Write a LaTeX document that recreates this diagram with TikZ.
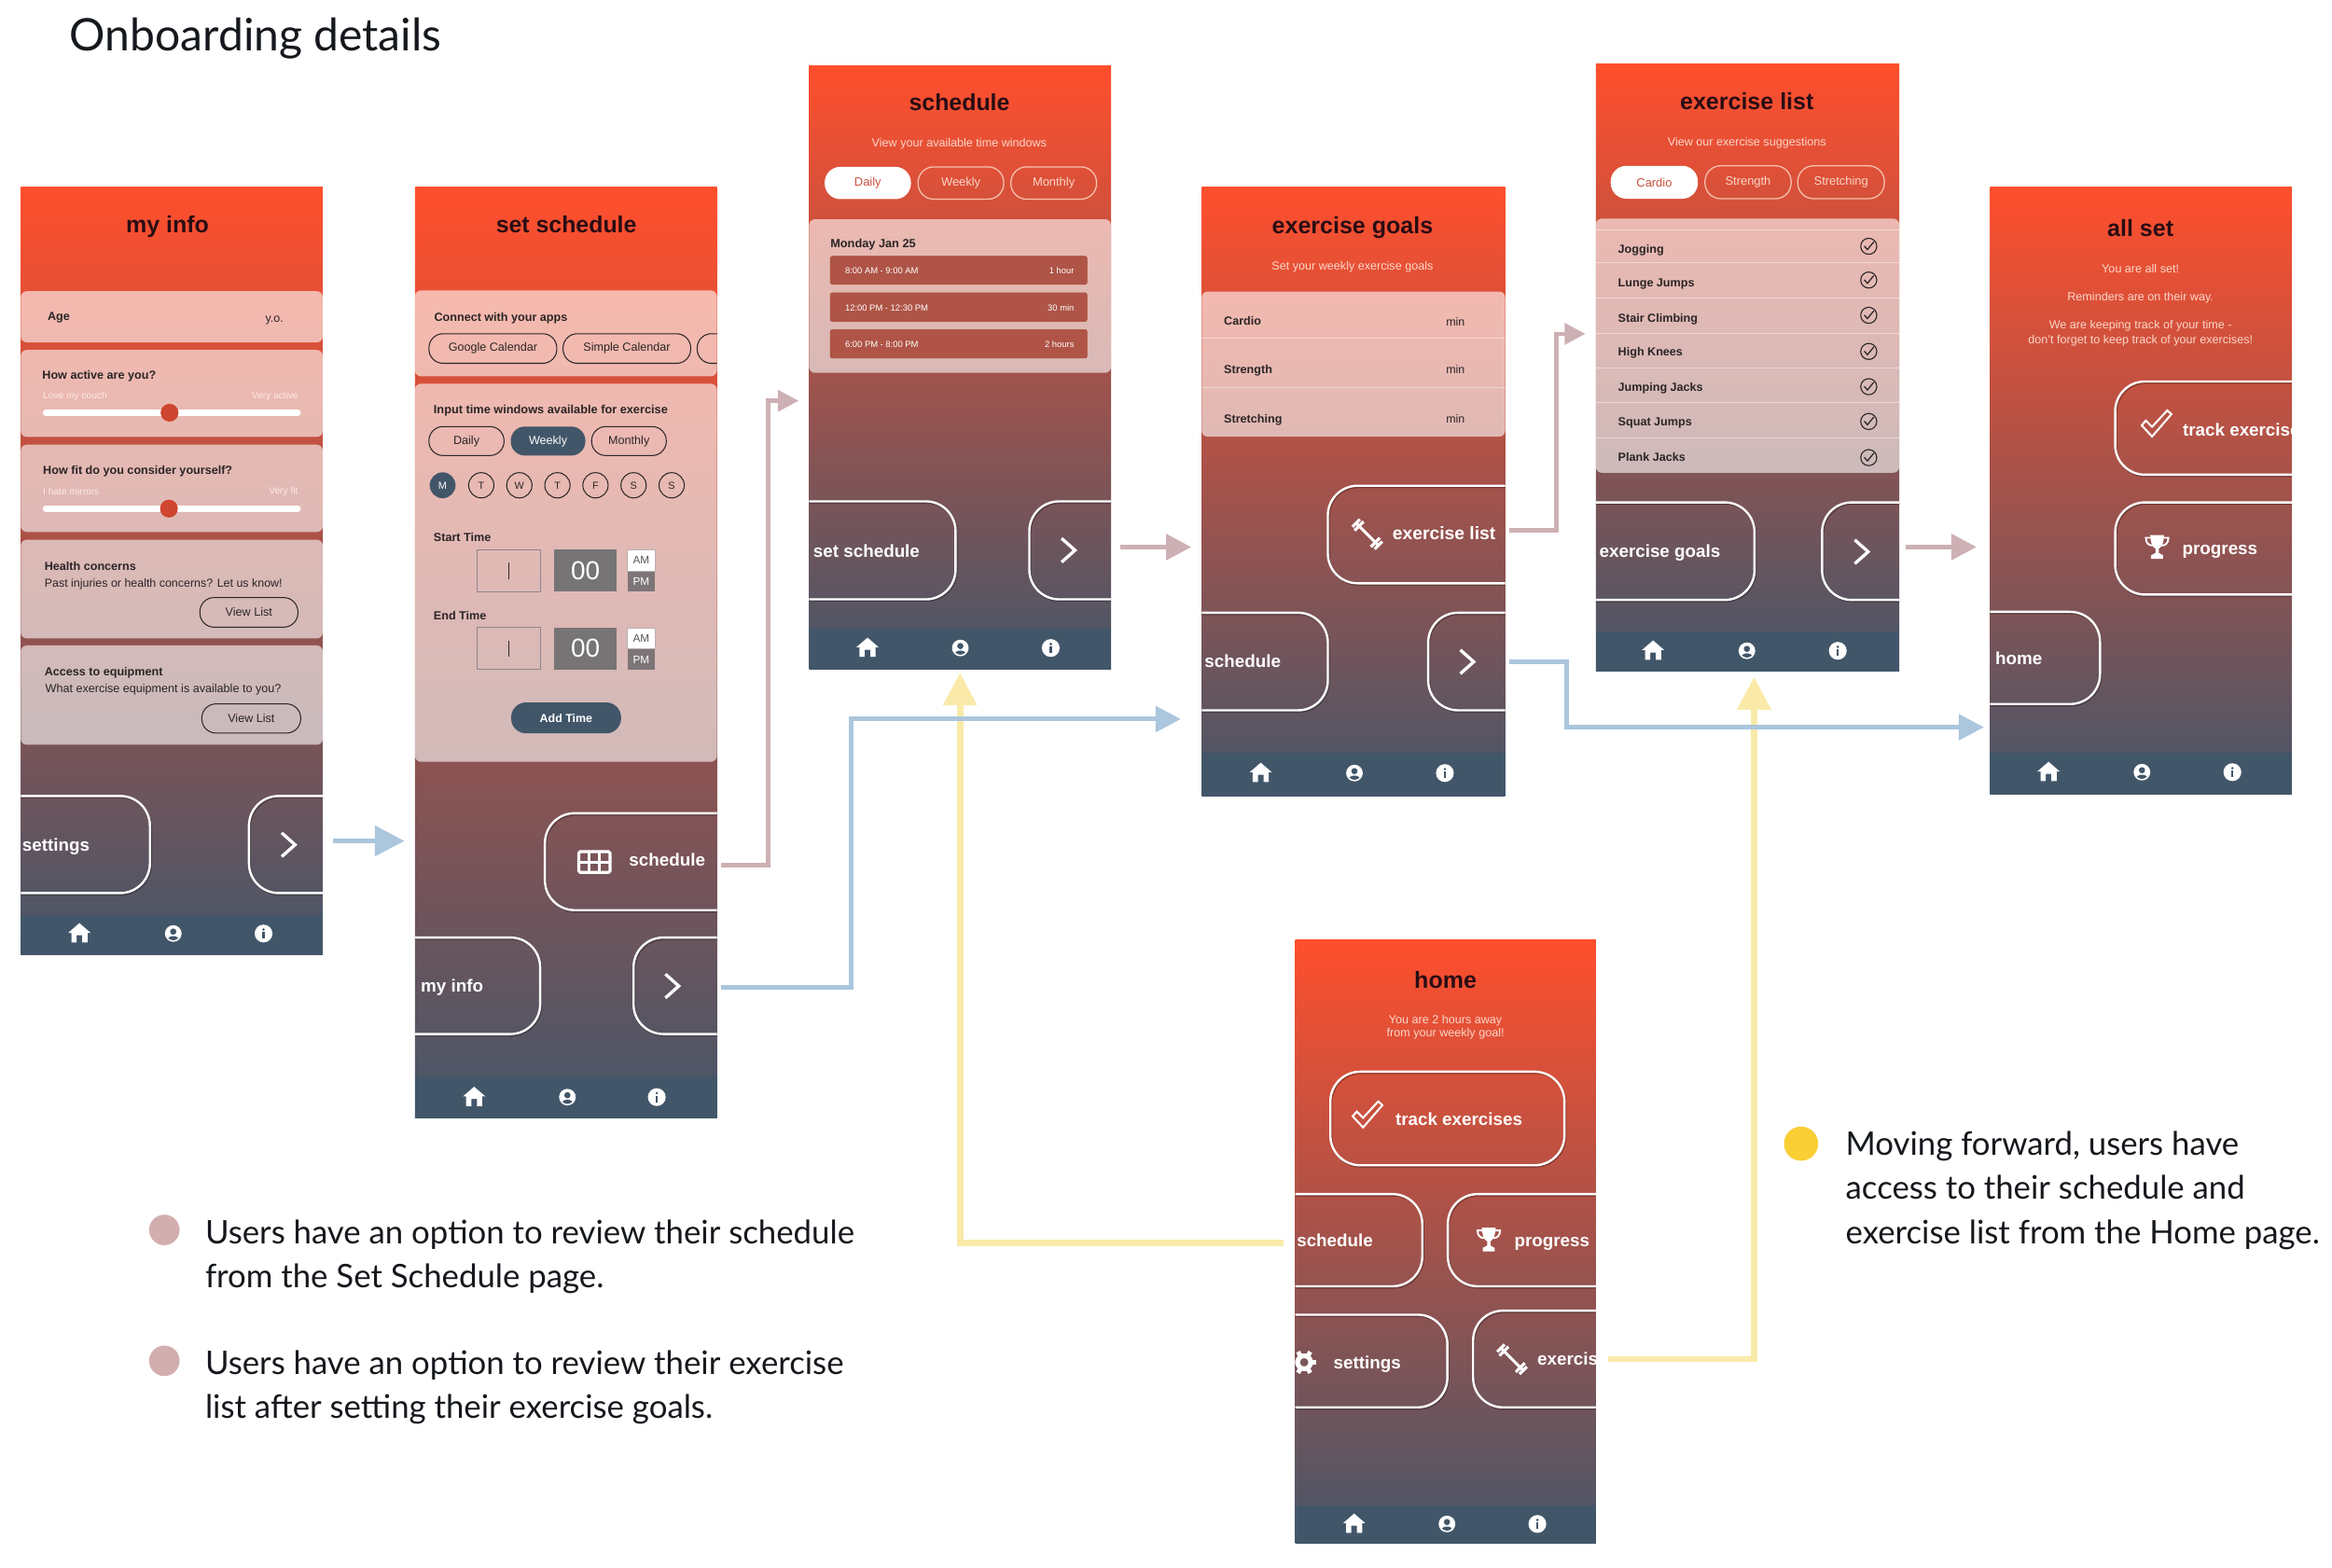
\documentclass[tikz,border=0pt]{standalone}
\usepackage{fontspec}
\setmainfont{Liberation Sans}
\newfontfamily\latofont{Lato}
\usetikzlibrary{arrows.meta,calc}
\definecolor{navc}{HTML}{425669}
\definecolor{topc}{HTML}{FF4F2D}
\definecolor{botc}{HTML}{465669}
\definecolor{ttl}{HTML}{2A0D14}
\definecolor{ink}{HTML}{2B2526}
\definecolor{hdrt}{HTML}{FBD6C8}
\definecolor{hdrl}{HTML}{F6C2AE}
\definecolor{rowc}{HTML}{AF5446}
\definecolor{pinkc}{HTML}{CDB0B4}
\definecolor{bluec}{HTML}{ABC6DD}
\definecolor{yelc}{HTML}{F9EAA9}
\definecolor{knob}{HTML}{CF452F}
\definecolor{legtxt}{HTML}{15181C}
\definecolor{sliderl}{HTML}{FCEAE6}
\definecolor{gearh}{HTML}{7A5759}
\definecolor{pillred}{HTML}{C8503C}
\definecolor{fieldc}{HTML}{8E8590}
\definecolor{zeroc}{HTML}{777475}
\definecolor{aml}{HTML}{BBB0B0}
\definecolor{amt}{HTML}{555555}
\definecolor{pmc}{HTML}{7D7577}
\definecolor{dotp}{HTML}{D3AEAE}
\definecolor{doty}{HTML}{F9CF35}
\newcommand\fz[1]{\fontsize{#1}{#1}\selectfont}
\newcommand\Bf{\bfseries}
\newcounter{nn}
\newcommand\Tx[5][]{\stepcounter{nn}\pgfmathsetmacro\tys{-0.12*#4}\node[txt,yshift=\tys pt,#1] (t\thenn) at (#2,#3) {\fz{#4}\vphantom{Ag}#5};}
\newcommand\Bx[6][]{\stepcounter{nn}\pgfmathsetmacro\bw{#4-#2}\pgfmathsetmacro\bh{#5-#3}\pgfmathsetmacro\cxx{(#2+#4)/2}\pgfmathsetmacro\cyy{(#3+#5)/2}\node[boxbase,minimum width=\bw pt,minimum height=\bh pt,#1] (b\thenn) at (\cxx,\cyy) {#6};}
\newcommand\Pn[2]{\pgfmathsetmacro\pr{\sx+\sw}\fill[panel] (\sx,#1) rectangle (\pr,#2);}
\newcommand\Sep[1]{\pgfmathsetmacro\pr{\sx+\sw}\draw[sep] (\sx,#1) -- (\pr,#1);}
\newcommand\phone[6]{\node[screen,minimum width=#4pt,minimum height=#5pt] (#1) at (#2,#3) {};
  \gdef\sx{#2}\gdef\sw{#4}\pgfmathsetmacro\pr{#2+#4}\pgfmathsetmacro\pb{#3+#5}\fill[navc] (#2,#6) rectangle (\pr,\pb);}
\newcommand\homeicon[2]{\begin{scope}[shift={(#1,#2)}]\fill[white] (-7.5,-.5) -- (0,-7) -- (7.5,-.5) -- (5.4,-.5) -- (5.4,6) -- (1.9,6) -- (1.9,1.2) -- (-1.9,1.2) -- (-1.9,6) -- (-5.4,6) -- (-5.4,-.5) -- cycle;\end{scope}}
\newcommand\usericon[2]{\begin{scope}[shift={(#1,#2)}]\fill[white] (0,0) circle (5.6);\fill[navc] (0,-1.3) circle (2.1);\begin{scope}\clip (0,0) circle (4.5);\fill[navc] (0,4.6) ellipse (4 and 2.9);\end{scope}\end{scope}}
\newcommand\infoicon[2]{\begin{scope}[shift={(#1,#2)}]\fill[white] (0,0) circle (6);\fill[navc] (0,-2.7) circle (.9);\fill[navc] (-.8,-.9) rectangle (.8,3.4);\end{scope}}
\newcommand\navicons[4]{\homeicon{#1}{#4}\usericon{#2}{#4}\infoicon{#3}{#4}}
\newcommand\chev[2]{\begin{scope}[shift={(#1,#2)}]\draw[white,line width=2.1] (-4.6,-8) -- (4.4,0) -- (-4.6,8);\end{scope}}
\newcommand\tableicon[2]{\begin{scope}[shift={(#1,#2)}]\draw[white,line width=2,rounded corners=1] (-10.5,-7) rectangle (10.5,7);\draw[white,line width=2] (-3.5,-7) -- (-3.5,7) (3.5,-7) -- (3.5,7) (-10.5,0) -- (10.5,0);\end{scope}}
\newcommand\dumbicon[2]{\begin{scope}[shift={(#1,#2)}]\draw[white,line width=1.9] (-7,-7) -- (7,7);\draw[white,line width=2] (-8.5,-2.5) -- (-2.5,-8.5) (-10,-5) -- (-5,-10) (8.5,2.5) -- (2.5,8.5) (10,5) -- (5,10);\end{scope}}
\newcommand\checkicon[2]{\begin{scope}[shift={(#1,#2)}]\draw[white,line width=1.3,line join=miter] (-10,1) -- (-7.2,-2.2) -- (-3,2) -- (7.2,-9) -- (10,-6.5) -- (-3,8.5) -- cycle;\end{scope}}
\newcommand\trophyicon[2]{\begin{scope}[shift={(#1,#2)}]\fill[white] (-4.6,-8) -- (4.6,-8) .. controls (4.6,-2) and (2.2,1) .. (1.1,1) -- (1.1,4) -- (4,5.6) -- (4,8) -- (-4,8) -- (-4,5.6) -- (-1.1,4) -- (-1.1,1) .. controls (-2.2,1) and (-4.6,-2) .. cycle;\draw[white,line width=1.2] (-4.5,-6.2) -- (-7.6,-6.2) .. controls (-7.6,-2.5) and (-5.5,-1) .. (-3,-1) (4.5,-6.2) -- (7.6,-6.2) .. controls (7.6,-2.5) and (5.5,-1) .. (3,-1);\end{scope}}
\newcommand\gearicon[2]{\begin{scope}[shift={(#1,#2)}]\fill[white] (0,0) circle (6);\foreach \a in {0,60,...,300}{\draw[white,line width=3] (\a:4) -- (\a:8.2);}\fill[gearh] (0,0) circle (2.8);\end{scope}}
\newcommand\okicon[2]{\begin{scope}[shift={(#1,#2)}]\draw[ink,line width=.7] (0,0) circle (5.4);\draw[ink,line width=.8] (-3,-.2) -- (-.9,2.2) -- (3.4,-3);\end{scope}}
\tikzset{
 x=1pt,y=-1pt,
 screen/.style={anchor=north west,inner sep=0,outer sep=0,top color=topc,bottom color=botc,shading angle=0},
 txt/.style={inner sep=0,outer sep=0,anchor=west,text=ink},
 ttlt/.style={anchor=center,text=ttl},
 wht/.style={text=white},
 hdr/.style={anchor=center,text=hdrt},
 panel/.style={fill=white,fill opacity=.6,rounded corners=4pt},
 sep/.style={white,opacity=.45,line width=.6},
 boxbase/.style={inner sep=0,outer sep=0,text=ink},
 pilld/.style={draw=ink,line width=.65,rounded corners=9.5pt},
 pillf/.style={fill=navc,text=white,rounded corners=9.5pt},
 pillo/.style={draw=hdrl,line width=.8,rounded corners=10.5pt,text=hdrt},
 pillw/.style={fill=white,rounded corners=10.5pt,text=pillred},
 timerow/.style={fill=rowc,rounded corners=1.5pt,draw=white,draw opacity=.25,line width=.3},
 btn/.style={draw=white,line width=1.5,rounded corners=20pt,preaction={draw=black,draw opacity=.28,transform canvas={shift={(.6pt,-.9pt)}}}},
 fieldb/.style={draw=fieldc,line width=.7},
 zero/.style={fill=zeroc,text=white},
 am/.style={fill=white,draw=aml,line width=.4,text=amt},
 pm/.style={fill=pmc,text=white},
 conn/.style={line width=#1,line join=miter},
 legend/.style={inner sep=0,outer sep=0,anchor=north west,align=left,text=legtxt,font=\latofont\fontsize{21.8}{29.5}\selectfont},
 dot/.style={circle,inner sep=0,outer sep=0,minimum size=#1pt},
}
\begin{document}
\begin{tikzpicture}
\useasboundingbox (0,0) rectangle (1568,1054);
\fill[white] (0,0) rectangle (1568,1054);
\node[txt,text=legtxt,font=\latofont\fz{30.1}] (maintitle) at (47,26) {\vphantom{Ag}Onboarding details};

%% ---------- my info
\begin{scope}
\clip (14,126) rectangle (217,642);
\phone{s1}{14}{126}{203}{516}{615}
\Tx[ttlt]{112.6}{150.7}{15.7}{\Bf my info}
\Pn{195.8}{230.2}\Pn{235.3}{293.8}\Pn{299}{357.7}\Pn{362.9}{429.3}\Pn{434}{500.8}
\Tx{32}{212.6}{7.9}{\Bf Age}
\Tx{178.5}{214}{7.8}{y.o.}
\Tx{28.5}{252}{7.9}{\Bf How active are you?}
\Tx[text=sliderl]{29}{266}{6.4}{Love my couch}
\Tx[anchor=east,text=sliderl]{200.6}{265.6}{6.4}{Very active}
\draw[white,line width=4.6,line cap=round] (31,277.5) -- (200,277.5);
\fill[knob] (114,277.5) circle (6);
\Tx{29}{316}{7.9}{\Bf How fit do you consider yourself?}
\Tx[text=sliderl]{29}{330}{6.4}{I hate mirrors}
\Tx[anchor=east,text=sliderl]{200.4}{329.6}{6.4}{Very fit}
\draw[white,line width=4.6,line cap=round] (31,342) -- (200,342);
\fill[knob] (113.6,342) circle (6);
\Tx{30}{380.8}{7.9}{\Bf Health concerns}
\Tx{30}{391.7}{7.8}{Past injuries or health concerns? Let us know!}
\Bx[pilld]{134.4}{401.8}{200.3}{421.7}{\fz{7.9}View List}
\Tx{30}{451.4}{7.9}{\Bf Access to equipment}
\Tx{30.5}{462.8}{7.9}{What exercise equipment is available to you?}
\Bx[pilld]{135.7}{473.3}{202.2}{492.9}{\fz{7.9}View List}
\Bx[btn]{-26}{535.2}{100.8}{600.5}{}
\Bx[btn,alias=s1next]{167.4}{535.2}{257}{600.5}{}
\Tx[wht]{15}{567.9}{11.8}{\Bf settings}
\chev{194}{568}
\navicons{53.4}{116.5}{177.2}{627.7}
\end{scope}

%% ---------- set schedule
\begin{scope}
\clip (279,126) rectangle (482,752);
\phone{s2}{279}{126}{203}{626}{724}
\Tx[ttlt]{380.8}{150.3}{15.6}{\Bf set schedule}
\Pn{195.3}{253}\Pn{258}{512.2}
\Tx{292}{212.9}{7.9}{\Bf Connect with your apps}
\Bx[pilld]{288.4}{224.4}{374.4}{244.3}{\fz{7.9}Google Calendar}
\Bx[pilld]{378.6}{224.4}{464.4}{244.3}{\fz{7.9}Simple Calendar}
\Bx[pilld]{468.8}{224.4}{530}{244.3}{}
\Tx{291.6}{275}{8}{\Bf Input time windows available for exercise}
\Bx[pilld]{288.4}{286.8}{338.9}{306.3}{\fz{7.9}Daily}
\Bx[pillf]{343.4}{286.8}{393.6}{306.3}{\fz{7.9}Weekly}
\Bx[pilld]{397.8}{286.8}{448}{306.3}{\fz{7.9}Monthly}
\fill[navc] (297.6,326.3) circle (8.7);
\Tx[anchor=center,wht]{297.6}{326.3}{6.8}{M}
\foreach \xx/\ll in {323.6/T,349.2/W,374.8/T,400.4/F,426/S,451.6/S}{
 \draw[ink,line width=.65] (\xx,326.3) circle (8.5);
 \Tx[anchor=center]{\xx}{326.3}{6.8}{\ll}
}
\Tx{291.6}{361}{7.9}{\Bf Start Time}
\Bx[fieldb]{321}{369.6}{363.6}{397.8}{\rule{.5pt}{11pt}}
\Bx[zero]{372.8}{369.6}{414.4}{397.8}{\fz{17.5}00}
\Bx[pm]{421.8}{369.6}{440.4}{397.8}{}
\Bx[am]{421.8}{369.6}{440.4}{383.8}{\fz{7.4}AM}
\Tx[anchor=center,wht]{431.1}{391}{7.4}{PM}
\Tx{291.6}{413.6}{7.9}{\Bf End Time}
\Bx[fieldb]{321}{422}{363.6}{450.2}{\rule{.5pt}{11pt}}
\Bx[zero]{372.8}{422}{414.4}{450.2}{\fz{17.5}00}
\Bx[pm]{421.8}{422}{440.4}{450.2}{}
\Bx[am]{421.8}{422}{440.4}{436.2}{\fz{7.4}AM}
\Tx[anchor=center,wht]{431.1}{443.4}{7.4}{PM}
\Bx[pillf,rounded corners=10pt]{343.7}{472.3}{417.6}{493.1}{\fz{7.8}\Bf Add Time}
\Bx[btn,alias=s2sched]{366.4}{546.8}{530}{612}{}
\tableicon{399.7}{579.6}
\Tx[wht]{423}{578}{11.8}{\Bf schedule}
\Bx[btn]{230}{630.4}{363.2}{695.3}{}
\Tx[wht]{283}{662.8}{11.8}{\Bf my info}
\Bx[btn,alias=s2next]{426}{630.4}{530}{695.3}{}
\chev{452}{663}
\navicons{318.8}{381.5}{441.6}{737.7}
\end{scope}

%% ---------- schedule
\begin{scope}
\clip (544,44) rectangle (747,450);
\phone{s3}{544}{44}{203}{406}{423}
\Tx[ttlt]{645.1}{68.6}{15.6}{\Bf schedule}
\Tx[hdr]{645}{95.8}{7.9}{View your available time windows}
\Bx[pillw]{554.5}{112.2}{612.5}{133.9}{\fz{8.1}Daily}
\Bx[pillo]{617.3}{112.2}{674.9}{133.9}{\fz{8.1}Weekly}
\Bx[pillo]{679.7}{112.2}{737.3}{133.9}{\fz{8.1}Monthly}
\Pn{147.4}{250.7}
\Tx{558.4}{163.7}{8}{\Bf Monday Jan 25}
\Bx[timerow]{558}{172}{731.2}{191.5}{}
\Bx[timerow]{558}{196.6}{731.2}{216.5}{}
\Bx[timerow]{558}{221.3}{731.2}{241.1}{}
\Tx[wht]{568.3}{182}{5.9}{8:00 AM - 9:00 AM}
\Tx[anchor=east,wht]{722.2}{182}{5.9}{1 hour}
\Tx[wht]{568.3}{207}{5.9}{12:00 PM - 12:30 PM}
\Tx[anchor=east,wht]{722.2}{207}{5.9}{30 min}
\Tx[wht]{568.3}{231.5}{5.9}{6:00 PM - 8:00 PM}
\Tx[anchor=east,wht]{722.2}{231.5}{5.9}{2 hours}
\Bx[btn]{500}{337.1}{642.5}{403}{}
\Tx[wht]{546.9}{370.4}{11.8}{\Bf set schedule}
\Bx[btn,alias=s3next]{692.1}{337.1}{790}{403}{}
\chev{718.4}{370}
\navicons{583.3}{645.7}{706.5}{435.7}
\end{scope}

%% ---------- exercise goals
\begin{scope}
\clip (808,126) rectangle (1012,535);
\phone{s4}{808}{126}{204}{409}{506.4}
\Tx[ttlt]{909.4}{150.9}{15.7}{\Bf exercise goals}
\Tx[hdr]{909.4}{178.4}{7.9}{Set your weekly exercise goals}
\Pn{196}{293.6}
\Sep{227.4}\Sep{260.6}
\Tx{823}{215.5}{7.9}{\Bf Cardio}
\Tx[anchor=east]{984.9}{216.5}{7.8}{min}
\Tx{823}{248.2}{7.9}{\Bf Strength}
\Tx[anchor=east]{984.9}{248.2}{7.8}{min}
\Tx{823}{281.4}{7.9}{\Bf Stretching}
\Tx[anchor=east]{984.9}{281.4}{7.8}{min}
\Bx[btn,alias=s4list]{892.8}{326.6}{1060}{392.2}{}
\dumbicon{919.3}{359.2}
\Tx[wht]{936.3}{358.2}{12.1}{\Bf exercise list}
\Bx[btn]{770}{412}{892.8}{477.6}{}
\Tx[wht]{810}{444}{11.8}{\Bf schedule}
\Bx[btn,alias=s4next]{960.3}{412}{1060}{477.6}{}
\chev{986.5}{445}
\navicons{847.7}{910.7}{971.5}{519.8}
\end{scope}

%% ---------- exercise list
\begin{scope}
\clip (1073,43) rectangle (1277,451);
\phone{s5}{1073}{43}{204}{408}{424.8}
\Tx[ttlt]{1174.6}{67.7}{15.7}{\Bf exercise list}
\Tx[hdr]{1174.6}{95.2}{7.9}{View our exercise suggestions}
\Bx[pillw]{1083}{111.5}{1141.6}{133.6}{\fz{8.1}Cardio}
\Bx[pillo]{1146.4}{111.5}{1204.3}{133.6}{\fz{8.1}Strength}
\Bx[pillo]{1208.8}{111.5}{1267}{133.6}{\fz{8.1}Stretching}
\Pn{147}{317.9}
\foreach \yy in {154.4,176.5,200.2,224.2,247.5,270.6,294.2}{\Sep{\yy}}
\Tx{1088}{167.2}{7.9}{\Bf Jogging}
\Tx{1088}{190.2}{7.9}{\Bf Lunge Jumps}
\Tx{1088}{213.6}{7.9}{\Bf Stair Climbing}
\Tx{1088}{236.6}{7.9}{\Bf High Knees}
\Tx{1088}{260.3}{7.9}{\Bf Jumping Jacks}
\Tx{1088}{283.4}{7.9}{\Bf Squat Jumps}
\Tx{1088}{307}{7.9}{\Bf Plank Jacks}
\foreach \yy in {165.6,188.3,212,236.3,260,283.4,307.7}{\okicon{1256.5}{\yy}}
\Bx[btn]{1030}{337.8}{1179.7}{403.4}{}
\Tx[wht]{1075.4}{370}{11.8}{\Bf exercise goals}
\Bx[btn,alias=s5next]{1225.1}{337.8}{1320}{403.4}{}
\chev{1251.7}{371}
\navicons{1111.5}{1174.6}{1235.7}{437.6}
\end{scope}

%% ---------- all set
\begin{scope}
\clip (1338,126) rectangle (1541,534);
\phone{s6}{1338}{126}{203}{408}{506.4}
\Tx[ttlt]{1439.2}{152.8}{15.7}{\Bf all set}
\Tx[hdr]{1439.2}{180.6}{7.9}{You are all set!}
\Tx[hdr]{1439.2}{199.5}{7.9}{Reminders are on their way.}
\Tx[hdr]{1439.2}{218.4}{7.9}{We are keeping track of your time -}
\Tx[hdr]{1439.2}{228}{7.9}{don't forget to keep track of your exercises!}
\Bx[btn]{1422.2}{256.5}{1600}{319.2}{}
\checkicon{1450}{285}
\Tx[wht]{1467.7}{288.8}{11.8}{\Bf track exercises}
\Bx[btn]{1422.2}{337.8}{1600}{399.8}{}
\trophyicon{1450.4}{367.8}
\Tx[wht]{1467.4}{368.8}{11.8}{\Bf progress}
\Bx[btn]{1300}{411.4}{1412}{473.4}{}
\Tx[wht]{1341.6}{442.7}{11.8}{\Bf home}
\navicons{1377.4}{1440.2}{1501}{519.2}
\end{scope}

%% ---------- home
\begin{scope}
\clip (871,632) rectangle (1073,1038);
\phone{s7}{871}{632}{202}{406}{1012}
\Tx[ttlt]{971.9}{658.3}{15.7}{\Bf home}
\Tx[hdr]{971.9}{685.1}{7.9}{You are 2 hours away}
\Tx[hdr]{971.9}{694.4}{7.9}{from your weekly goal!}
\Bx[btn]{894.5}{720.6}{1051.9}{783.5}{}
\checkicon{919.5}{749.6}
\Tx[wht]{938.3}{752.3}{11.8}{\Bf track exercises}
\Bx[btn,alias=s7sched]{830}{802.9}{956.3}{864.9}{}
\Tx[wht]{872}{834}{11.8}{\Bf schedule}
\Bx[btn]{973.5}{802.9}{1120}{864.9}{}
\trophyicon{1001}{833.5}
\Tx[wht]{1018.3}{834}{11.8}{\Bf progress}
\Bx[btn]{830}{884}{973.2}{946.3}{}
\gearicon{876.9}{916}
\Tx[wht]{896.7}{915.7}{11.8}{\Bf settings}
\Bx[btn,alias=s7list]{990.5}{881.3}{1120}{946.3}{}
\dumbicon{1016.7}{914}
\Tx[wht]{1033.7}{913.3}{11.8}{\Bf exercise list}
\navicons{910.5}{972.9}{1033.7}{1024.7}
\end{scope}

%% ---------- connectors: yellow below blue
\coordinate (ya) at ($(s7.east |- s7list)+(8.4,0)$);
\coordinate (yb) at ($(s5.south)+(4.4,4.2)$);
\draw[conn=4.2,yelc,-{Triangle[length=22pt,width=22pt]}] (ya) -| (yb);
\coordinate (yc) at ($(s7.west |- s7sched)+(-8,2)$);
\coordinate (yd) at ($(s3.south)+(0,2.3)$);
\draw[conn=4.2,yelc,-{Triangle[length=22pt,width=22pt]}] (yc) -| (yd);

\draw[conn=3.4,bluec,-{Triangle[length=20pt,width=20pt]}] ($(s1.east |- s1next)+(7,-2.4)$) -- ($(s2.west |- s1next)+(-7,-2.4)$);
\coordinate (pa) at ($(s2.east |- s2sched)+(3,2.3)$);
\coordinate (pb) at ($(s3.west)+(-7,22.5)$);
\coordinate (pm) at ($(pb)+(-20.5,0)$);
\draw[conn=3,pinkc,-{Triangle[length=14pt,width=14pt]}] (pa) -| (pm) -- (pb);
\coordinate (ba) at ($(s2.east |- s2next)+(3,1)$);
\coordinate (bb) at ($(s4.west)+(-14,153)$);
\coordinate (bm) at ($(bb)+(-221.5,0)$);
\draw[conn=3.2,bluec,-{Triangle[length=17pt,width=17pt]}] (ba) -| (bm) -- (bb);
\draw[conn=3.4,pinkc,-{Triangle[length=17pt,width=17pt]}] ($(s3.east |- s3next)+(6,-2.2)$) -- ($(s4.west |- s3next)+(-7,-2.2)$);
\coordinate (qa) at ($(s4.east |- s4list)+(2.6,-3)$);
\coordinate (qb) at ($(s5.west)+(-7,-22.5)$);
\coordinate (qm) at ($(qb)+(-19.7,0)$);
\draw[conn=3,pinkc,-{Triangle[length=14pt,width=14pt]}] (qa) -| (qm) -- (qb);
\coordinate (ca) at ($(s4.east |- s4next)+(2.6,0)$);
\coordinate (cb) at ($(s6.west)+(-4,159)$);
\coordinate (cm) at ($(cb)+(-280.7,0)$);
\draw[conn=3.2,bluec,-{Triangle[length=17pt,width=17pt]}] (ca) -| (cm) -- (cb);
\draw[conn=3.4,pinkc,-{Triangle[length=17pt,width=17pt]}] ($(s5.east |- s5next)+(4.4,-2.8)$) -- ($(s6.west |- s5next)+(-9,-2.8)$);

%% ---------- legend
\node[dot=20.5,fill=dotp] (d1) at (110.5,827) {};
\node[dot=20.5,fill=dotp] (d2) at (110.5,915) {};
\node[dot=23,fill=doty] (d3) at (1211,769) {};
\node[legend] (l1) at (138,820) {Users have an option to review their schedule\\from the Set Schedule page.};
\node[legend] (l2) at (138,908) {Users have an option to review their exercise\\list after setting their exercise goals.};
\node[legend] (l3) at (1241,761) {Moving forward, users have\\access to their schedule and\\exercise list from the Home page.};
\end{tikzpicture}
\end{document}
